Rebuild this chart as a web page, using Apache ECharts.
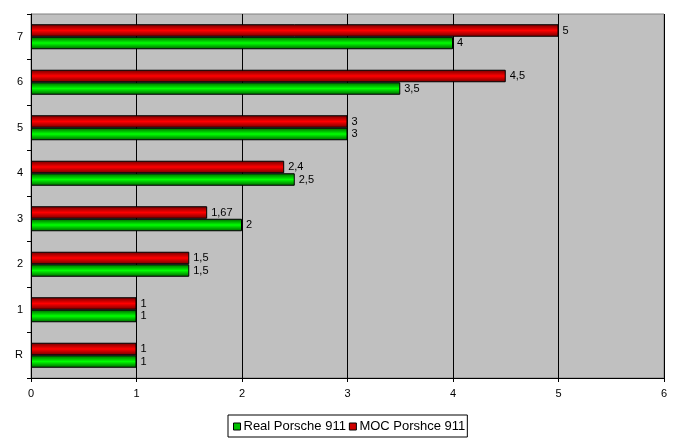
<!DOCTYPE html>
<html>
<head>
<meta charset="utf-8">
<script src="https://cdn.jsdelivr.net/npm/echarts@6/dist/echarts.min.js"></script>
<style>
html,body{margin:0;padding:0;background:#fff;}
#chart{width:683px;height:446px;}
</style>
</head>
<body>
<div id="chart"></div>
<script>
var categories = ['R', '1', '2', '3', '4', '5', '6', '7'];
var realValues = [1, 1, 1.5, 2, 2.5, 3, 3.5, 4];
var mocValues = [1, 1, 1.5, 1.67, 2.4, 3, 4.5, 5];
var xTicks = [0, 1, 2, 3, 4, 5, 6];

//柱子渐变
function barGradient(dark, light){
	return new echarts.graphic.LinearGradient(0, 0, 0, 1, [
		{offset: 0, color: dark},
		{offset: 0.5, color: light},
		{offset: 1, color: dark}
	]);
}

function fmt(p){
	return String(p.value).replace('.', ',');
}

var myChart = echarts.init(document.getElementById('chart'));
var option = {
	animation: false,
	textStyle: {fontFamily: 'Liberation Sans, Arial, sans-serif'},
	legend: {
		top: 415,
		left: 228,
		itemWidth: 7,
		itemHeight: 7,
		itemGap: 3,
		padding: [5, 2, 4, 5],
		borderColor: '#000',
		borderWidth: 1,
		textStyle: {fontSize: 13, color: '#000', padding: [0, 0, 0, -2]},
		data: [
			{name: 'Real Porsche 911', icon: 'rect', itemStyle: {color: '#00c000', borderColor: '#000', borderWidth: 1}},
			{name: 'MOC Porshce 911', icon: 'rect', itemStyle: {color: '#d00000', borderColor: '#000', borderWidth: 1}}
		]
	},
	grid: {
		left: 31,
		right: 19,
		top: 14,
		bottom: 68,
		show: true,
		backgroundColor: '#c0c0c0',
		borderColor: '#808080',
		borderWidth: 1
	},
	xAxis: {
		type: 'value',
		min: xTicks[0],
		max: xTicks[xTicks.length - 1],
		interval: 1,
		axisLine: {show: true, lineStyle: {color: '#000'}},
		axisTick: {show: true, length: 4, lineStyle: {color: '#000'}},
		axisLabel: {color: '#000', fontSize: 11, margin: 10},
		splitLine: {show: true, lineStyle: {color: '#000', width: 1}}
	},
	yAxis: {
		type: 'category',
		data: categories,
		axisLine: {show: true, lineStyle: {color: '#000'}},
		axisTick: {show: true, length: 4, lineStyle: {color: '#000'}},
		axisLabel: {color: '#000', fontSize: 11, margin: 8},
		splitLine: {show: false}
	},
	series: [
		{
			name: 'MOC Porshce 911',
			type: 'bar',
			data: mocValues,
			barGap: '0%',
			barCategoryGap: '45%',
			itemStyle: {color: barGradient('#700000', '#ff0000'), borderColor: '#000', borderWidth: 1},
			label: {show: true, position: 'right', distance: 4, color: '#000', fontSize: 11, formatter: fmt}
		},
		{
			name: 'Real Porsche 911',
			type: 'bar',
			data: realValues,
			barGap: '0%',
			barCategoryGap: '45%',
			itemStyle: {color: barGradient('#006000', '#00ff00'), borderColor: '#000', borderWidth: 1},
			label: {show: true, position: 'right', distance: 4, color: '#000', fontSize: 11, formatter: fmt}
		}
	]
};
myChart.setOption(option, true);
</script>
</body>
</html>
